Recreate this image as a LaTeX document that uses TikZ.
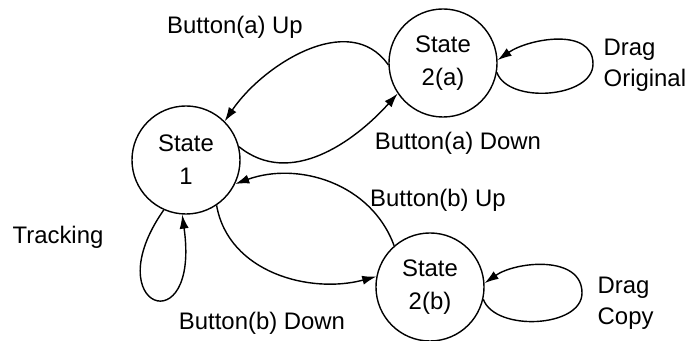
\documentclass[tikz,border=0pt]{standalone}
\usepackage{fontspec}
\setmainfont{Liberation Sans}
\usetikzlibrary{arrows.meta,positioning}

\begin{document}
\begin{tikzpicture}
[   x=0.025cm, y=0.025cm, line width=1pt,
    snode/.style={draw=black, circle, minimum size=2.7cm, align=center, font=\fontsize{17}{23.5}\selectfont},
    lbl/.style={font=\fontsize{17}{22}\selectfont, inner sep=0pt},
    >={Latex[length=10pt,width=6.5pt]}, ]

    \useasboundingbox (0,0) rectangle (685,341);

    \node[snode] (s1) at (186,181) {State\\1};
    \node[snode] (s2a) at (443,278) {State\\2(a)};
    \node[snode] (s2b) at (430,54) {State\\2(b)};

    \node[lbl] (aup) at (235,314) {Button(a) Up};
    \node[lbl] (adown) at (458,198) {Button(a) Down};
    \node[lbl] (bup) at (438,141) {Button(b) Up};
    \node[lbl] (bdown) at (262,18) {Button(b) Down};
    \node[lbl] (track) at (58,104) {Tracking};
    \node[lbl, anchor=west, align=left] (orig) at (603,276) {Drag\\Original};
    \node[lbl, anchor=west, align=left] (copy) at (597,38) {Drag\\Copy};

    % far ends of the drag loops
    \coordinate (oa) at (593,277);
    \coordinate (ob) at (582,48);

    % transitions between the states
    \draw[->] (s2a.182) to[out=125, in=56] (s1.45);
    \draw[->] (s1.14) to[out=-39, in=228] (s2a.214);
    \draw[->] (s2b.131) to[out=110, in=20] (s1.-26);
    \draw[->] (s1.-56) to[out=-80, in=195] (s2b.169);

    % self loops
    \draw[->] (s1.246) to[out=235, in=278, out distance=3cm, in distance=3.3cm] (s1.266);
    \draw[->] (s2a.-10) to[out=-70, in=-90, looseness=0.9] (oa) to[out=90, in=35] (s2a.3);
    \draw[->] (s2b.-13) to[out=-70, in=-90, looseness=0.9] (ob) to[out=90, in=35] (s2b.4);

\end{tikzpicture}
\end{document}
